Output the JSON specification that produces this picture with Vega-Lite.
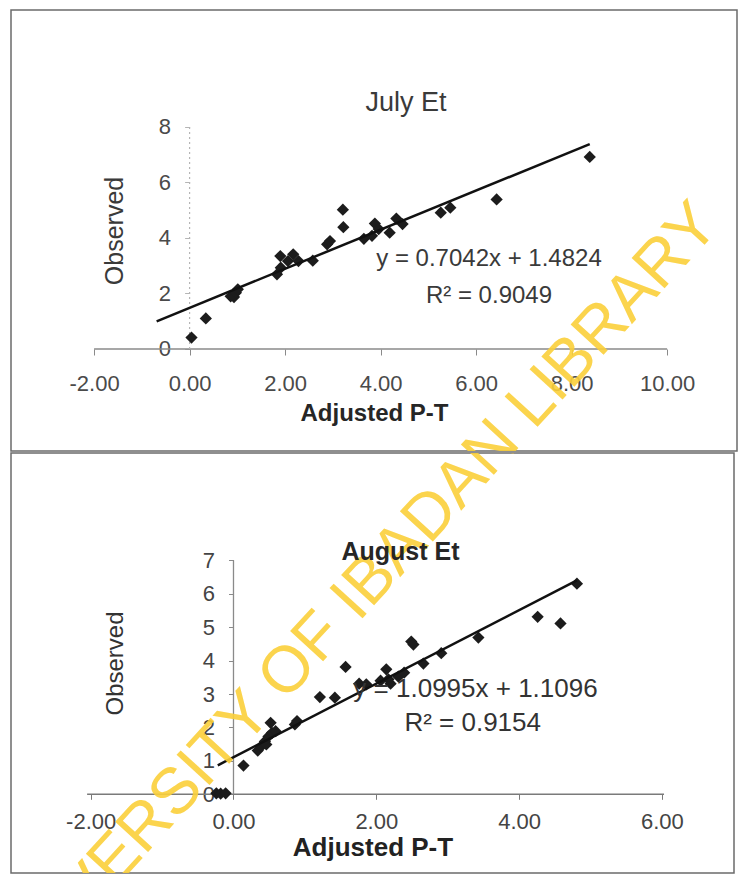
{
  "$schema": "https://vega.github.io/schema/vega-lite/v6.json",
  "background": "white",
  "padding": {"left": 10, "top": 9, "right": 0, "bottom": 0},
  "config": {
    "view": {"stroke": "#6b6b6b", "strokeWidth": 1.5},
    "font": "Liberation Sans",
    "axis": {"grid": false, "domain": false, "labelFont": "Liberation Sans", "titleFont": "Liberation Sans", "labelFlush": false, "labelOverlap": false}
  },
  "datasets": {
    "july": [
      {"adjusted_pt": 0.04, "observed": 0.41},
      {"adjusted_pt": 0.34, "observed": 1.10},
      {"adjusted_pt": 0.86, "observed": 1.90},
      {"adjusted_pt": 0.93, "observed": 1.87},
      {"adjusted_pt": 0.97, "observed": 2.03},
      {"adjusted_pt": 1.01, "observed": 2.15},
      {"adjusted_pt": 1.83, "observed": 2.69},
      {"adjusted_pt": 1.91, "observed": 2.93},
      {"adjusted_pt": 1.90, "observed": 3.35},
      {"adjusted_pt": 2.06, "observed": 3.17},
      {"adjusted_pt": 2.17, "observed": 3.41},
      {"adjusted_pt": 2.28, "observed": 3.17},
      {"adjusted_pt": 2.58, "observed": 3.18},
      {"adjusted_pt": 2.88, "observed": 3.77},
      {"adjusted_pt": 2.94, "observed": 3.89},
      {"adjusted_pt": 3.22, "observed": 4.39},
      {"adjusted_pt": 3.21, "observed": 5.02},
      {"adjusted_pt": 3.65, "observed": 3.97},
      {"adjusted_pt": 3.82, "observed": 4.08},
      {"adjusted_pt": 3.88, "observed": 4.52},
      {"adjusted_pt": 3.96, "observed": 4.32},
      {"adjusted_pt": 4.19, "observed": 4.19},
      {"adjusted_pt": 4.33, "observed": 4.70},
      {"adjusted_pt": 4.46, "observed": 4.50},
      {"adjusted_pt": 5.26, "observed": 4.91},
      {"adjusted_pt": 5.46, "observed": 5.09},
      {"adjusted_pt": 6.43, "observed": 5.39},
      {"adjusted_pt": 8.38, "observed": 6.92}
    ],
    "julyTrend": [
      {"adjusted_pt": -0.69, "observed": 0.996},
      {"adjusted_pt": 8.38, "observed": 7.384}
    ],
    "august": [
      {"adjusted_pt": -0.24, "observed": 0.03},
      {"adjusted_pt": -0.18, "observed": 0.02},
      {"adjusted_pt": -0.11, "observed": 0.03},
      {"adjusted_pt": 0.14, "observed": 0.86},
      {"adjusted_pt": 0.34, "observed": 1.31},
      {"adjusted_pt": 0.39, "observed": 1.44},
      {"adjusted_pt": 0.44, "observed": 1.58},
      {"adjusted_pt": 0.46, "observed": 1.49},
      {"adjusted_pt": 0.49, "observed": 1.73},
      {"adjusted_pt": 0.52, "observed": 2.14},
      {"adjusted_pt": 0.54, "observed": 1.84},
      {"adjusted_pt": 0.59, "observed": 1.89},
      {"adjusted_pt": 0.86, "observed": 2.09},
      {"adjusted_pt": 0.89, "observed": 2.19},
      {"adjusted_pt": 1.21, "observed": 2.91},
      {"adjusted_pt": 1.42, "observed": 2.89},
      {"adjusted_pt": 1.57, "observed": 3.81},
      {"adjusted_pt": 1.76, "observed": 3.31},
      {"adjusted_pt": 1.86, "observed": 3.29},
      {"adjusted_pt": 2.06, "observed": 3.40},
      {"adjusted_pt": 2.14, "observed": 3.74},
      {"adjusted_pt": 2.17, "observed": 3.44},
      {"adjusted_pt": 2.20, "observed": 3.31},
      {"adjusted_pt": 2.31, "observed": 3.52},
      {"adjusted_pt": 2.39, "observed": 3.64},
      {"adjusted_pt": 2.49, "observed": 4.57},
      {"adjusted_pt": 2.52, "observed": 4.48},
      {"adjusted_pt": 2.66, "observed": 3.91},
      {"adjusted_pt": 2.91, "observed": 4.22},
      {"adjusted_pt": 3.43, "observed": 4.69},
      {"adjusted_pt": 4.26, "observed": 5.31},
      {"adjusted_pt": 4.58, "observed": 5.11},
      {"adjusted_pt": 4.81, "observed": 6.30}
    ],
    "augustTrend": [
      {"adjusted_pt": -0.22, "observed": 0.868},
      {"adjusted_pt": 4.81, "observed": 6.398}
    ]
  },
  "bounds": "flush",
  "spacing": 2,
  "vconcat": [
    {
      "width": 726,
      "height": 441,
      "title": {"text": "July Et", "fontSize": 27, "fontWeight": "normal", "color": "#3a3a3a", "anchor": "middle", "frame": "group", "dx": 32, "offset": -128, "baseline": "alphabetic"},
      "layer": [
        {
          "data": {"values": [{}]},
          "mark": {"type": "rule", "color": "#8a8a8a", "strokeWidth": 1.5},
          "encoding": {
            "x": {"datum": -2, "type": "quantitative"},
            "x2": {"datum": 10},
            "y": {"datum": 0, "type": "quantitative"}
          }
        },
        {
          "data": {"values": [{}]},
          "mark": {"type": "rule", "color": "#b5b5b5", "strokeWidth": 1.2, "strokeDash": [2, 3]},
          "encoding": {
            "x": {"datum": 0, "type": "quantitative"},
            "y": {"datum": 0, "type": "quantitative"},
            "y2": {"datum": 8}
          }
        },
        {
          "data": {"name": "july"},
          "mark": {"type": "point", "shape": "diamond", "filled": true, "size": 150, "color": "#1c1c1c", "opacity": 1},
          "encoding": {
            "x": {
              "field": "adjusted_pt", "type": "quantitative",
              "scale": {"domain": [-3.740, 11.464], "nice": false, "zero": false},
              "axis": {"orient": "bottom", "offset": -102, "values": [-2, 0, 2, 4, 6, 8, 10], "labelExpr": "replace(format(datum.value, '.2f'), '\u2212', '-')", "title": "Adjusted P-T", "titleFontSize": 24, "titleFontWeight": "bold", "titleColor": "#262626", "titlePadding": 7, "labelFontSize": 22, "labelColor": "#4a4a4a", "labelPadding": 18, "tickSize": 6, "tickColor": "#8a8a8a"}
            },
            "y": {
              "field": "observed", "type": "quantitative",
              "scale": {"domain": [-3.676, 12.216], "nice": false, "zero": false},
              "axis": {"orient": "left", "offset": -178.6, "values": [0, 2, 4, 6, 8], "title": "Observed", "titleFontSize": 25, "titleFontWeight": "normal", "titleColor": "#3a3a3a", "titlePadding": 31, "labelFontSize": 22, "labelColor": "#4a4a4a", "labelPadding": 14, "tickSize": 5, "tickColor": "#b5b5b5"}
            }
          }
        },
        {
          "data": {"name": "julyTrend"},
          "mark": {"type": "line", "color": "#111111", "strokeWidth": 2.5},
          "encoding": {
            "x": {"field": "adjusted_pt", "type": "quantitative"},
            "y": {"field": "observed", "type": "quantitative"}
          }
        },
        {
          "data": {"values": [{}]},
          "mark": {"type": "text", "text": "y = 0.7042x + 1.4824", "fontSize": 24, "color": "#3a3a3a", "align": "center", "baseline": "middle"},
          "encoding": {
            "x": {"datum": 6.27, "type": "quantitative"},
            "y": {"datum": 3.24, "type": "quantitative"}
          }
        },
        {
          "data": {"values": [{}]},
          "mark": {"type": "text", "text": "R² = 0.9049", "fontSize": 24, "color": "#3a3a3a", "align": "center", "baseline": "middle"},
          "encoding": {
            "x": {"datum": 6.27, "type": "quantitative"},
            "y": {"datum": 1.91, "type": "quantitative"}
          }
        },
        {
          "data": {"values": [{}]},
          "mark": {"type": "text", "text": "UNIVERSITY OF IBADAN LIBRARY", "fontSize": 65, "angle": 312.5, "color": "#fbd03a", "opacity": 0.9, "align": "center", "baseline": "middle", "clip": true},
          "encoding": {
            "x": {"datum": 3.38, "type": "quantitative"},
            "y": {"datum": -9.08, "type": "quantitative"}
          }
        }
      ]
    },
    {
      "width": 723,
      "height": 420,
      "title": {"text": "August Et", "fontSize": 25, "fontWeight": "bold", "color": "#262626", "anchor": "middle", "frame": "group", "dx": 28, "offset": -132, "baseline": "alphabetic"},
      "layer": [
        {
          "data": {"values": [{}]},
          "mark": {"type": "rule", "color": "#7a7a7a", "strokeWidth": 1.5},
          "encoding": {
            "x": {"datum": -2.05, "type": "quantitative"},
            "x2": {"datum": 6.03},
            "y": {"datum": 0, "type": "quantitative"}
          }
        },
        {
          "data": {"values": [{}]},
          "mark": {"type": "rule", "color": "#8a8a8a", "strokeWidth": 1.3},
          "encoding": {
            "x": {"datum": 0, "type": "quantitative"},
            "y": {"datum": 0, "type": "quantitative"},
            "y2": {"datum": 7}
          }
        },
        {
          "data": {"name": "august"},
          "mark": {"type": "point", "shape": "diamond", "filled": true, "size": 150, "color": "#1c1c1c", "opacity": 1},
          "encoding": {
            "x": {
              "field": "adjusted_pt", "type": "quantitative",
              "scale": {"domain": [-3.116, 7.010], "nice": false, "zero": false},
              "axis": {"orient": "bottom", "offset": -78.7, "values": [-2, 0, 2, 4, 6], "labelExpr": "replace(format(datum.value, '.2f'), '\u2212', '-')", "title": "Adjusted P-T", "titleFontSize": 26, "titleFontWeight": "bold", "titleColor": "#222222", "titlePadding": 2, "labelFontSize": 22, "labelColor": "#444444", "labelPadding": 12, "tickSize": 5, "tickColor": "#7a7a7a"}
            },
            "y": {
              "field": "observed", "type": "quantitative",
              "scale": {"domain": [-2.354, 10.21], "nice": false, "zero": false},
              "axis": {"orient": "left", "offset": -222.5, "values": [0, 1, 2, 3, 4, 5, 6, 7], "title": "Observed", "titleFontSize": 24, "titleFontWeight": "normal", "titleColor": "#333333", "titlePadding": 75, "labelFontSize": 22, "labelColor": "#444444", "labelPadding": 14, "tickSize": 5, "tickColor": "#8a8a8a"}
            }
          }
        },
        {
          "data": {"name": "augustTrend"},
          "mark": {"type": "line", "color": "#111111", "strokeWidth": 2.5},
          "encoding": {
            "x": {"field": "adjusted_pt", "type": "quantitative"},
            "y": {"field": "observed", "type": "quantitative"}
          }
        },
        {
          "data": {"values": [{}]},
          "mark": {"type": "text", "text": "y = 1.0995x + 1.1096", "fontSize": 26, "color": "#333333", "align": "center", "baseline": "middle"},
          "encoding": {
            "x": {"datum": 3.39, "type": "quantitative"},
            "y": {"datum": 3.14, "type": "quantitative"}
          }
        },
        {
          "data": {"values": [{}]},
          "mark": {"type": "text", "text": "R² = 0.9154", "fontSize": 26, "color": "#333333", "align": "center", "baseline": "middle"},
          "encoding": {
            "x": {"datum": 3.35, "type": "quantitative"},
            "y": {"datum": 2.14, "type": "quantitative"}
          }
        },
        {
          "data": {"values": [{}]},
          "mark": {"type": "text", "text": "UNIVERSITY OF IBADAN LIBRARY", "fontSize": 65, "angle": 312.5, "color": "#fbd03a", "opacity": 0.9, "align": "center", "baseline": "middle", "clip": true},
          "encoding": {
            "x": {"datum": 1.646, "type": "quantitative"},
            "y": {"datum": 5.78, "type": "quantitative"}
          }
        }
      ]
    }
  ]
}
